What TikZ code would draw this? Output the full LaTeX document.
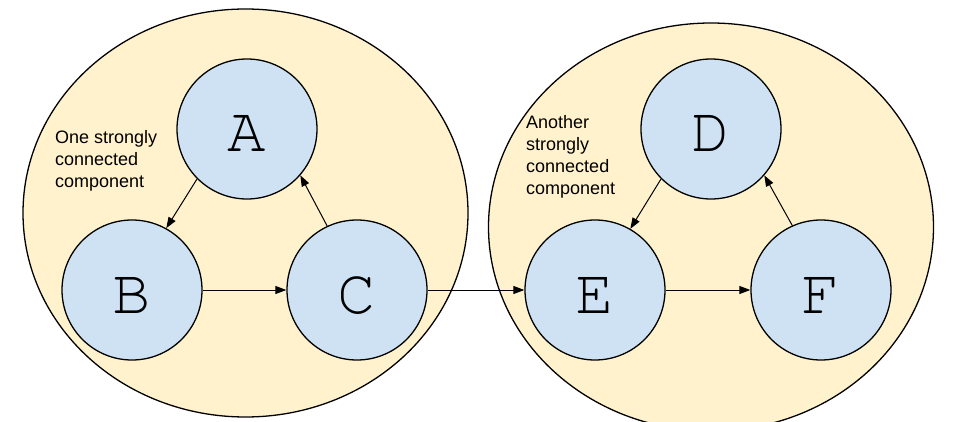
\documentclass[tikz,border=0pt]{standalone}
\usepackage[T1]{fontenc}
\usepackage{fontspec}
\setmainfont{Liberation Sans}
\usepackage{xcolor}
\usetikzlibrary{arrows.meta,positioning,shapes}
\definecolor{sccyellow}{HTML}{FFF2CC}
\definecolor{vertblue}{HTML}{CFE2F3}
\newcommand{\courierletters}{\fontencoding{T1}\fontfamily{pcr}\fontsize{64}{64}\selectfont}

\begin{document}
\begin{tikzpicture}[x=1pt,y=-1pt,
    scc/.style={ellipse,draw,line width=1.3pt,fill=sccyellow,minimum width=445pt,minimum height=408pt},
    vertex/.style={circle,draw,line width=1.3pt,fill=vertblue,minimum size=140pt,inner sep=0pt,
      text height=46pt,text depth=0pt,font=\courierletters},
    edge/.style={-{Triangle[length=11pt,width=8pt]},line width=1pt},
    note/.style={align=left,anchor=north west,inner sep=0pt,font=\fontsize{18}{22}\selectfont}]
  \useasboundingbox (0,0) rectangle (956,422);
  \clip (0,0) rectangle (956,422);
  \node[scc] (left) at (245.5,213) {};
  \node[scc] (right) at (711,227) {};
  \node[note] (leftnote) at (55,130) {One strongly\\connected\\component};
  \node[note] (rightnote) at (526,115) {Another\\strongly\\connected\\component};
  \node[vertex] (A) at (247,129) {A};
  \node[vertex] (B) at (132,290) {B};
  \node[vertex] (C) at (357,290) {C};
  \node[vertex] (D) at (711,129) {D};
  \node[vertex] (E) at (595,290) {E};
  \node[vertex] (F) at (821,290) {F};
  \draw[edge] (A.225) -- (B.61);
  \draw[edge] (B) -- (C);
  \draw[edge] (C.115) -- (A.319);
  \draw[edge] (C) -- (E);
  \draw[edge] (D.225) -- (E.60);
  \draw[edge] (E) -- (F);
  \draw[edge] (F.114) -- (D.319);
\end{tikzpicture}
\end{document}
